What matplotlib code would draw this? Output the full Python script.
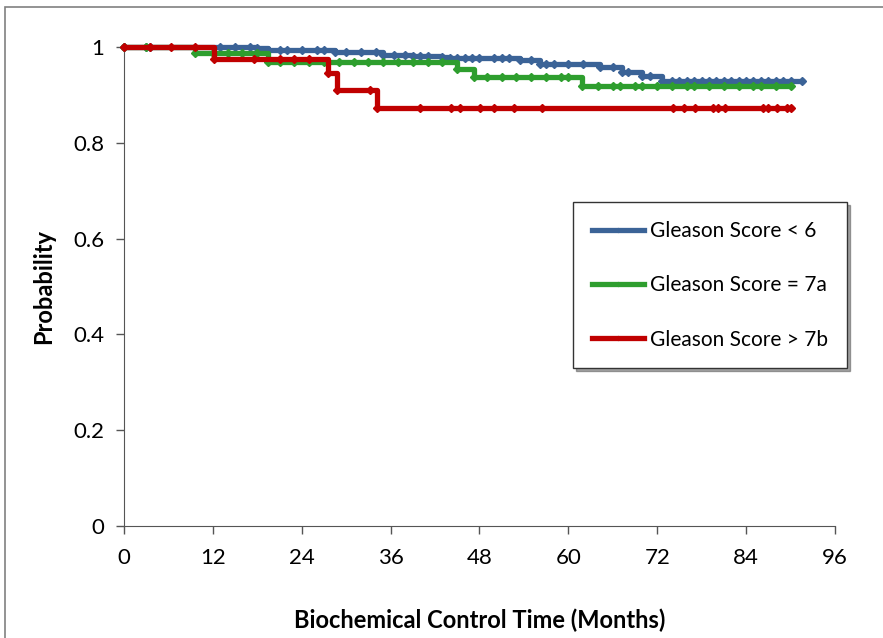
import numpy as np
import matplotlib
matplotlib.use("Agg")
import matplotlib.pyplot as plt
from matplotlib.patches import Rectangle

plt.rcParams['font.family'] = ['Lato', 'DejaVu Sans']

# Kaplan-Meier points (months, survival)
blue_t = [0, 3, 3.5, 13, 15, 17, 18, 19.5, 21, 22, 24, 26, 27, 28.5, 30, 32, 34, 35,
          36.5, 38, 39, 40, 41, 43, 44, 45, 46, 47, 48, 50, 51, 52, 53.5, 55, 56.2, 57,
          58, 60, 62, 64.3, 66, 67.2, 68, 70, 71, 72.6, 74, 75, 76, 77, 78, 79, 80, 81,
          82, 83, 84, 85, 86, 87, 88, 89, 90, 91.5]
blue_s = [1, 1, 1, 1, 1, 1, 0.997, 0.994, 0.994, 0.994, 0.994, 0.994, 0.994, 0.989,
          0.989, 0.989, 0.989, 0.983, 0.983, 0.983, 0.981, 0.981, 0.981, 0.980, 0.978,
          0.978, 0.978, 0.978, 0.978, 0.978, 0.978, 0.978, 0.973, 0.973, 0.964, 0.964,
          0.964, 0.964, 0.964, 0.958, 0.958, 0.948, 0.948, 0.939, 0.939, 0.930, 0.930,
          0.930, 0.930, 0.930, 0.930, 0.930, 0.930, 0.930, 0.930, 0.930, 0.930, 0.930,
          0.930, 0.930, 0.930, 0.930, 0.930, 0.930]

green_t = [0, 3, 9.6, 12, 14, 16, 17.9, 19.5, 21, 23, 25, 27, 29, 31, 33, 35, 37, 39,
           41, 43, 44.9, 47.2, 49, 51, 53, 55, 57, 59, 60, 61.8, 64, 66, 67, 69, 70, 72,
           74, 76, 77, 79, 81, 83, 85, 86, 88, 90.1]
green_s = [1, 1, 0.988, 0.988, 0.988, 0.988, 0.988, 0.969, 0.969, 0.969, 0.969, 0.969,
           0.969, 0.969, 0.969, 0.969, 0.969, 0.969, 0.969, 0.969, 0.954, 0.938, 0.938,
           0.938, 0.938, 0.938, 0.938, 0.938, 0.938, 0.919, 0.919, 0.919, 0.919, 0.919,
           0.919, 0.919, 0.919, 0.919, 0.919, 0.919, 0.919, 0.919, 0.919, 0.919, 0.919,
           0.919]

red_t = [0, 3.5, 6.4, 9.6, 12.1, 17.5, 21, 23, 25, 27.5, 28.7, 33.2, 34.2, 40, 44.2,
         45.4, 48.1, 50, 52.6, 56.5, 74.1, 75.6, 77.1, 79.5, 80.2, 81.1, 86.3, 87, 88.2,
         89.5, 90.1]
red_s = [1, 1, 1, 1, 0.976, 0.976, 0.976, 0.976, 0.976, 0.946, 0.910, 0.910, 0.872,
         0.872, 0.872, 0.872, 0.872, 0.872, 0.872, 0.872, 0.872, 0.872, 0.872, 0.872,
         0.872, 0.872, 0.872, 0.872, 0.872, 0.872, 0.872]

series = [
    ("Gleason Score < 6", blue_t, blue_s, "#3B6397"),
    ("Gleason Score = 7a", green_t, green_s, "#2E9E2E"),
    ("Gleason Score > 7b", red_t, red_s, "#C00000"),
]

fig = plt.figure(figsize=(8.83, 6.38), dpi=100)
ax = fig.add_axes([0.1404, 0.1755, 0.8052, 0.7508])

for label, t, s, c in series:
    ax.plot(t, s, drawstyle="steps-post", color=c, lw=3.8, marker="D", ms=4.3,
            label=label, clip_on=False, zorder=3)

ax.set_xlim(0, 96)
ax.set_ylim(0, 1)
ax.set_xticks(np.arange(0, 97, 12))
ax.set_yticks([0, 0.2, 0.4, 0.6, 0.8, 1])
ax.set_yticklabels(["0", "0.2", "0.4", "0.6", "0.8", "1"])
ax.tick_params(direction="out", length=6, width=1, labelsize=16, color="#555555")
ax.tick_params(axis="x", pad=10)
ax.tick_params(axis="y", pad=8)
ax.spines["top"].set_visible(False)
ax.spines["right"].set_visible(False)
for sp in ("left", "bottom"):
    ax.spines[sp].set_color("#555555")

ax.set_xlabel("Biochemical Control Time (Months)", fontsize=17, fontweight="bold",
              labelpad=29)
ax.set_ylabel("Probability", fontsize=17, fontweight="bold", labelpad=13)

leg = ax.legend(loc="upper left", bbox_to_anchor=(0.6315, 0.676), fontsize=15,
                frameon=True, fancybox=False, shadow=True, handlelength=2.5,
                handletextpad=0.3, labelspacing=1.65, borderpad=0.9,
                borderaxespad=0, markerscale=0.5)
leg.get_frame().set_edgecolor("#333333")
leg.get_frame().set_linewidth(1)

# outer chart border
fig.patches.append(Rectangle((5 / 883, -0.1), 1.2, 1 - 7 / 638 + 0.1,
                             transform=fig.transFigure, fill=False,
                             edgecolor="#808080", lw=1.2))

fig.savefig("out.png", dpi=100)
